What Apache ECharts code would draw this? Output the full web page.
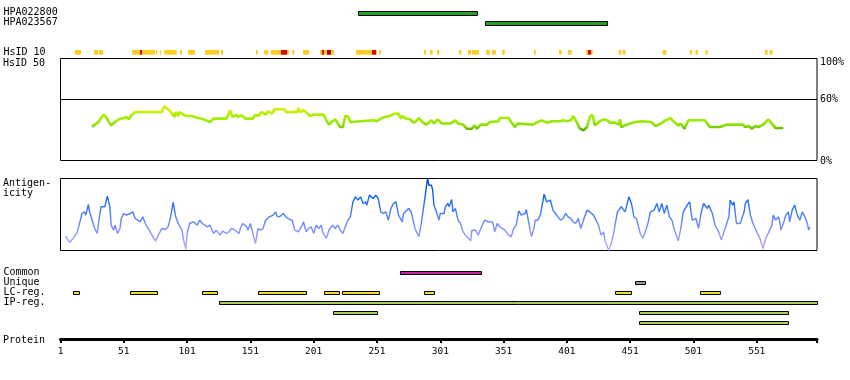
<!DOCTYPE html>
<html><head><meta charset="utf-8">
<script src="https://cdn.jsdelivr.net/npm/echarts@6/dist/echarts.min.js"></script>
<style>html,body{margin:0;padding:0;background:#fff}#c{width:850px;height:380px}</style>
</head><body><div id="c"></div>
<script>
// ---------- data ----------
const epitopeNames = ['HPA022800', 'HPA023567'];
const epitopeRanges = [[236, 330], [336, 432]];

const hsid10Label = ['HsID 10'];
const hsid10Yellow = [[12.5,17.2],[27.5,30.7],[31.4,34.6],[57.5,63.8],[65.4,75.7],[76.4,77.5],[79.4,80.4],[83,92.8],[95.4,97],[101.7,107.3],[115.2,126.2],[127.8,129.4],[155.4,156.8],[161.8,165],[167.3,175.2],[180,181.6],[184.1,185.7],[192.6,197.3],[206,207.6],[209.2,211.5],[214.7,217.1],[234.4,247],[250.2,251],[252.6,254],[288.2,289.7],[292.9,295],[298.4,300.3],[315.8,317.6],[322.9,325.3],[326.1,331.6],[337.1,340.1],[341.9,344.8],[349.8,351.9],[375,376.4],[394.8,396.9],[401.9,404.8],[416.1,417.7],[420.1,421.4],[441.9,444.1],[445.2,447.4],[476.8,479.6],[498.1,499.8],[502.6,504.5],[510.5,512.2],[557.4,559.6],[561.2,563.5]];
const hsid10Red = [[63.8,65.4],[175.2,180],[207.6,209.2],[247,250.2],[417.7,420.1]];
const hsid10DarkRed = [[211.5,214.7]];

// HsID 50 identity (%), [residue, percent]
const hsid50 = [[26,32.8],[28,35.2],[31,37.7],[33,41.7],[35,45],[37,42.7],[39,38.4],[41,34.5],[44,37.7],[47,40.4],[51,41.7],[53,42.7],[55,40.4],[57,44.3],[60,47.6],[69,47.6],[81,47.6],[83,53.5],[85,50.9],[87,49.3],[89,46],[91,42.7],[92,47.6],[94,43.6],[95,47.6],[98,45],[101,43.6],[105,43.6],[107,42.7],[110,41.7],[114,40.4],[116,39.4],[119,37.7],[122,41.1],[132,41.1],[134,46],[135,49.3],[137,42.7],[140,45],[141,42.7],[144,44.3],[147,41.1],[153,41.1],[155,45],[157,43.6],[160,47.6],[163,45],[165,48.3],[168,46],[170,50.2],[178,50.2],[179,47.6],[188,47.6],[189,51.5],[190,47.6],[193,49.3],[195,47.6],[198,43.6],[201,45],[209,45],[211,39.4],[213,35.2],[215,37.7],[218,40.4],[220,36.3],[222,32.8],[224,32.8],[226,43.6],[228,43.6],[230,37.7],[238,38.5],[248,39.4],[251,38.5],[253,40.4],[257,42.7],[261,43.6],[265,46],[268,46],[270,41.1],[271,43.6],[274,41.1],[277,40.4],[280,37.1],[282,38.5],[284,41.7],[287,37.7],[290,35.2],[292,37.1],[294,39.4],[296,36.3],[299,40.4],[300,41.7],[302,36.3],[309,36.3],[311,37.7],[313,39.4],[315,36.3],[319,35.2],[322,31.2],[326,31.2],[328,34.5],[330,31.2],[333,35.2],[338,35.2],[340,37.7],[347,38.5],[348,41.7],[355,41.7],[356,43.6],[357,37.7],[360,32.8],[362,36.3],[374,35.2],[377,37.1],[381,39.4],[384,37.7],[386,37.1],[389,38.5],[396,38.5],[398,39.4],[401,38.5],[404,39.4],[406,43.6],[408,39.4],[409,37.1],[411,31.8],[414,29.6],[415,31.2],[417,32.8],[419,42.7],[421,45],[422,41.1],[423,34.5],[425,36.3],[427,38.5],[430,40.4],[433,39.4],[435,37.1],[439,37.1],[442,35.2],[443,40.4],[444,32.8],[447,34.5],[451,36.3],[455,37.7],[461,38.5],[468,37.7],[471,33.8],[475,36.1],[479,39.4],[483,41.7],[485,38.4],[489,34.5],[491,36.1],[494,31.2],[497,39.4],[510,39.4],[512,36.1],[514,32.8],[522,32.8],[527,35.2],[540,35.2],[542,32.8],[545,33.8],[547,31.2],[550,33.8],[552,32.8],[555,34.5],[557,36.1],[560,40.4],[563,36.1],[566,31.8],[572,31.8]];
const pctTicks = [0, 60, 100];

// Antigenicity, [residue, relative score 0-100]
const antigenicity = [[5,19.9],[6,17.6],[8,11.1],[11,16.7],[14,24.5],[16,37.5],[18,51.4],[20,53.7],[21,49.1],[23,63.9],[24,53.7],[26,42.1],[28,30.6],[30,23.6],[31,37.5],[33,60.7],[36,60.7],[38,75.5],[40,60.7],[41,35.2],[43,28.2],[44,35.2],[46,23.6],[48,30.6],[49,44.4],[51,51.4],[53,49.1],[56,51.4],[58,53.7],[60,44.4],[62,42.1],[64,39.8],[66,46.8],[68,37.5],[71,28.2],[74,19],[76,13],[79,23.6],[81,30.6],[84,29.2],[86,32.9],[88,46.8],[90,66.7],[92,46.8],[94,37.5],[97,28.2],[98,16.7],[100,1.4],[101,23.6],[103,37.5],[106,39.8],[109,35.2],[111,42.1],[113,37.5],[114,39.8],[117,32.9],[119,35.2],[122,23.6],[124,28.2],[127,21.3],[129,26.9],[132,23.6],[134,25.9],[136,30.6],[139,28.2],[142,23.6],[143,30.6],[145,37.5],[148,32.9],[149,28.2],[151,37.5],[153,23.6],[155,9.7],[157,30.6],[159,28.2],[161,30.6],[163,42.1],[166,46.8],[169,49.1],[171,53.7],[172,47.7],[174,46.8],[177,51.4],[179,46.8],[182,43.1],[184,42.1],[186,28.2],[189,25.9],[192,35.2],[193,39.8],[195,25.9],[197,30.6],[199,32.9],[201,23.6],[203,35.2],[205,30.6],[207,35.2],[208,25.9],[211,16.7],[213,28.2],[216,35.2],[218,30.6],[220,35.2],[222,28.2],[224,23.6],[227,37.5],[228,42.1],[230,46.8],[232,67.6],[234,74.5],[236,69.9],[238,74.5],[240,65.3],[242,67.6],[243,63],[245,76.9],[248,72.2],[250,76.9],[252,72.2],[254,53.7],[256,51.4],[258,53.7],[260,42.1],[262,58.3],[264,65.3],[266,67.6],[268,49.1],[271,39.8],[272,51.4],[276,58.3],[278,53.7],[281,30.6],[284,19],[286,37.5],[289,74.5],[290,88.4],[291,100],[292,90.7],[294,90.7],[295,83.8],[296,63],[298,53.7],[300,42.1],[301,51.4],[304,51.4],[305,60.7],[307,65.3],[308,60.7],[310,70.8],[311,53.7],[313,58.3],[315,42.1],[317,37.5],[319,25.9],[320,28.2],[322,19],[325,13.4],[326,28.2],[329,28.2],[331,21.3],[333,30.6],[336,42.1],[339,39.8],[342,39.8],[343,35.2],[344,25.9],[346,37.5],[348,32.9],[350,30.6],[352,28.2],[355,21.3],[357,19],[359,30.6],[361,35.2],[363,55.1],[365,49.1],[368,51.4],[369,56.9],[371,37.5],[373,19],[375,30.6],[376,42.1],[378,42.1],[380,49.1],[382,67.6],[383,78.2],[385,67.6],[388,69.9],[390,56],[392,51.4],[394,46.8],[396,42.1],[398,44.4],[400,51.4],[402,46.8],[404,44.4],[406,39.8],[408,37.5],[410,44.4],[412,30.6],[415,46.8],[417,56],[419,53.7],[422,49.1],[424,42.1],[426,35.2],[428,21.3],[430,25.9],[431,14.4],[433,5.1],[434,0.5],[436,9.7],[438,23.6],[439,35.2],[441,53.7],[444,60.7],[447,53.7],[448,56],[450,74.5],[452,65.3],[454,46.8],[456,44.4],[459,23.6],[461,16.7],[463,25.9],[465,37.5],[467,53.7],[470,56],[472,65.3],[474,53.7],[476,65.3],[478,51.4],[480,63],[482,46.8],[484,42.1],[486,28.2],[489,13.4],[491,30.6],[493,53.7],[496,63],[498,67.6],[500,42.1],[503,44.4],[505,30.6],[507,51.4],[509,65.3],[512,58.3],[513,63],[516,51.4],[518,35.2],[521,25.9],[523,14.4],[526,30.6],[529,46.8],[530,69.9],[532,63],[533,67.6],[535,37.5],[538,37.5],[541,53.7],[542,65.3],[544,70.8],[546,49.1],[548,37.5],[551,25.9],[553,19],[556,2.8],[558,16.7],[560,23.6],[563,35.2],[564,49.1],[566,42.1],[568,46.8],[569,42.1],[570,28.2],[572,37.5],[574,49.1],[576,53.7],[577,39.8],[579,56],[581,63],[583,49.1],[585,42.1],[587,53.7],[589,46.8],[591,37.5],[592,28.2],[593,32.9]];

const trackNames = ['Common', 'Unique', 'LC-reg.', 'IP-reg.', 'IP-reg. (2)', 'IP-reg. (3)'];
const commonRanges = [[269, 333]];
const uniqueRanges = [[455, 463]];
const lcRegRanges = [[11,16],[56,77],[113,125],[157,195],[209,221],[223,252],[288,296],[439,452],[506,522]];
const ipRegRow1 = [[126, 598.4]];
const ipRegRow2 = [[216, 251], [458, 576]];
const ipRegRow3 = [[458, 576]];

const proteinTicks = [1, 51, 101, 151, 201, 251, 301, 351, 401, 451, 501, 551];
const proteinEnd = 598.6;

// ---------- chart ----------
const FONT = '"DejaVu Sans Mono", monospace';
const chart = echarts.init(document.getElementById('c'), null, {renderer: 'canvas'});

function withRow(ranges, row) { return ranges.map(r => [r[0], r[1], row]); }

function rangeRenderer(fill, h, stroke) {
  return function (params, api) {
    const row = api.value(2);
    const p0 = api.coord([api.value(0), row]);
    const p1 = api.coord([api.value(1), row]);
    if (stroke) {
      const x = Math.round(p0[0]) + 0.5;
      const w = Math.round(p1[0] - p0[0]);
      const y = Math.round(p0[1] - h / 2) + 0.5;
      return {type: 'rect', shape: {x: x, y: y, width: w, height: h},
        style: {fill: fill, stroke: '#000', lineWidth: 1}};
    }
    const band = api.size([0, 1])[1];
    return {type: 'rect', shape: {x: p0[0], y: p0[1] - band / 2, width: p1[0] - p0[0], height: band},
      style: {fill: fill}};
  };
}

const L = 60.5, R = 33;
const grids = [
  {left: L, right: R, top: 7.5, height: 20},      // 0 epitopes
  {left: L, right: R, top: 50, height: 4.7},      // 1 HsID 10
  {left: L, right: R, top: 58.5, height: 102, show: true, borderColor: '#000', borderWidth: 1}, // 2 HsID 50
  {left: L, right: R, top: 178.5, height: 72, show: true, borderColor: '#000', borderWidth: 1}, // 3 antigenicity
  {left: L, right: R, top: 267.3, height: 60},    // 4 tracks
  {left: L, right: R, top: 337.5, height: 2}      // 5 protein axis
].map(g => Object.assign({containLabel: false, outerBoundsMode: 'none'}, g));

const xAxes = grids.map((g, i) => ({
  type: 'value', gridIndex: i, min: 1, max: proteinEnd, show: i === 5,
  axisLine: {show: i === 5, onZero: false, lineStyle: {color: '#000', width: 3}},
  axisTick: {show: i === 5, length: 3.5, lineStyle: {color: '#000', width: 2},
    customValues: proteinTicks.concat([proteinEnd])},
  axisLabel: {show: i === 5, customValues: proteinTicks, margin: 7,
    fontFamily: FONT, fontSize: 9.5, color: '#000'},
  splitLine: {show: false}
}));

const catLabel = {fontFamily: FONT, fontSize: 10, color: '#000', align: 'left', margin: 57, interval: 0, hideOverlap: false};
const yAxes = [
  {type: 'category', gridIndex: 0, data: epitopeNames, inverse: true,
    axisLine: {show: false}, axisTick: {show: false}, axisLabel: catLabel},
  {type: 'category', gridIndex: 1, data: hsid10Label,
    axisLine: {show: false}, axisTick: {show: false}, axisLabel: catLabel},
  {type: 'value', gridIndex: 2, min: 0, max: 100, position: 'right',
    axisLine: {show: false}, axisTick: {show: false}, splitLine: {show: false},
    axisLabel: {customValues: pctTicks, margin: 3, fontFamily: FONT, fontSize: 10, color: '#000',
      formatter: v => v === 100 ? '{top|' + v + '%}' : (v === 0 ? '{bot|' + v + '%}' : v + '%'),
      rich: {top: {fontFamily: FONT, fontSize: 10, color: '#000', padding: [7, 0, 0, 0]},
             bot: {fontFamily: FONT, fontSize: 10, color: '#000', padding: [1, 0, 0, 0]}}}},
  {type: 'value', gridIndex: 3, min: 0, max: 100, show: false, splitLine: {show: false}},
  {type: 'category', gridIndex: 4, data: trackNames, inverse: true,
    axisLine: {show: false}, axisTick: {show: false},
    axisLabel: Object.assign({}, catLabel, {formatter: (v, i) => i < 4 ? v : ''})},
  {type: 'value', gridIndex: 5, show: false, min: 0, max: 1}
];

function rangeSeries(grid, ranges, fill, h, stroke) {
  return {type: 'custom', xAxisIndex: grid, yAxisIndex: grid, silent: true,
    renderItem: rangeRenderer(fill, h, stroke), encode: {x: [0, 1], y: 2}, data: ranges};
}

const series = [
  rangeSeries(0, epitopeRanges.map((r, i) => [r[0], r[1], i]), '#22a322', 4, true),
  rangeSeries(1, withRow(hsid10Yellow, 0), '#ffcc22', 0, false),
  rangeSeries(1, withRow(hsid10Red, 0), '#e20000', 0, false),
  rangeSeries(1, withRow(hsid10DarkRed, 0), '#b00000', 0, false),
  {type: 'line', name: 'HsID 50', xAxisIndex: 2, yAxisIndex: 2, data: hsid50,
    showSymbol: false, symbol: 'none', lineStyle: {width: 2.6}, silent: true,
    markLine: {silent: true, symbol: 'none', label: {show: false},
      lineStyle: {color: '#000', width: 1, type: 'solid'}, data: [{yAxis: 60}]}},
  {type: 'line', name: 'Antigenicity', xAxisIndex: 3, yAxisIndex: 3, data: antigenicity,
    showSymbol: false, symbol: 'none', lineStyle: {width: 1.4}, silent: true},
  rangeSeries(4, withRow(commonRanges, 0), '#cc22aa', 3, true),
  rangeSeries(4, withRow(uniqueRanges, 1), '#999999', 3, true),
  rangeSeries(4, withRow(lcRegRanges, 2), '#eedd33', 3, true),
  rangeSeries(4, withRow(ipRegRow1, 3), '#a6cf5a', 3, true),
  rangeSeries(4, withRow(ipRegRow2, 4), '#a6cf5a', 3, true),
  rangeSeries(4, withRow(ipRegRow3, 5), '#a6cf5a', 3, true)
];

const textStyle = {font: '10px ' + FONT, fill: '#000', verticalAlign: 'middle', align: 'left'};
chart.setOption({
  animation: false,
  backgroundColor: '#fff',
  grid: grids,
  xAxis: xAxes,
  yAxis: yAxes,
  visualMap: [
    {type: 'continuous', show: false, seriesIndex: 4, dimension: 1, min: 29, max: 54,
      inRange: {color: ['#55aa00', '#88dd00', '#99ee00', '#aaee00', '#c8f000', '#e8e830']}},
    {type: 'continuous', show: false, seriesIndex: 5, dimension: 1, min: 0, max: 100,
      inRange: {color: ['#c0a8ff', '#8890ff', '#4a7cff', '#0c66f5', '#0046bb']}}
  ],
  graphic: [
    {type: 'text', left: 3, top: 58, style: Object.assign({text: 'HsID 50'}, textStyle)},
    {type: 'text', left: 3, top: 178, style: Object.assign({text: 'Antigen-\nicity', lineHeight: 10}, textStyle)},
    {type: 'text', left: 3, top: 335, style: Object.assign({text: 'Protein'}, textStyle)}
  ],
  series: series
});
</script></body></html>
